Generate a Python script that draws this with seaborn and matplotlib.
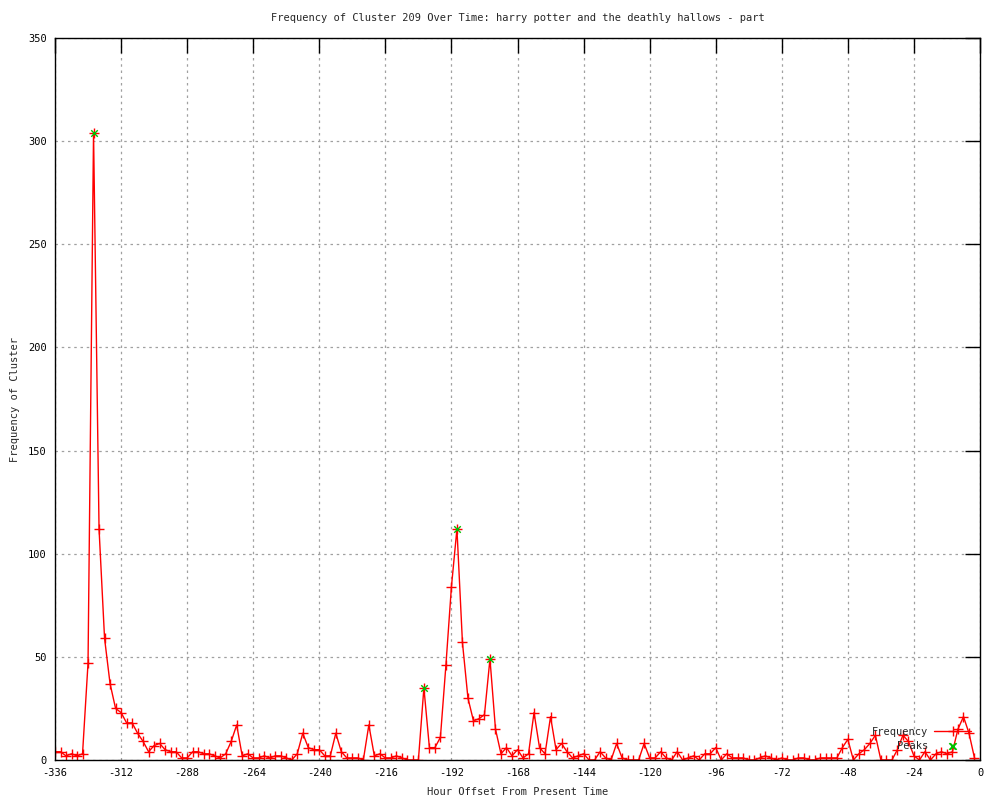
import numpy as np
import pandas as pd
import matplotlib
matplotlib.use("Agg")
import matplotlib.pyplot as plt
import seaborn as sns

# hourly offsets, one reading every 2 hours
hours = np.arange(-336, 0, 2)

frequency = [
    4, 4, 2, 3, 2, 3, 47, 304, 112, 59,
    37, 25, 23, 18, 18, 13, 9, 4, 7, 8,
    5, 4, 4, 1, 1, 4, 4, 3, 3, 2,
    1, 3, 9, 17, 2, 3, 1, 1, 2, 1,
    2, 2, 1, 0, 3, 13, 6, 5, 5, 2,
    2, 13, 4, 1, 1, 1, 0, 17, 2, 3,
    1, 1, 2, 1, 0, 0, 0, 35, 6, 6,
    11, 46, 84, 112, 57, 30, 19, 20, 22, 49,
    15, 3, 6, 2, 5, 1, 3, 23, 6, 3,
    21, 5, 8, 4, 1, 2, 3, 0, 0, 4,
    1, 0, 8, 1, 0, 0, 0, 8, 1, 1,
    4, 1, 0, 4, 0, 1, 2, 0, 3, 3,
    6, 0, 3, 1, 1, 1, 0, 0, 1, 2,
    1, 0, 1, 0, 0, 1, 1, 0, 0, 1,
    1, 1, 1, 6, 10, 0, 3, 5, 8, 12,
    0, 0, 0, 5, 12, 9, 2, 0, 4, 0,
    3, 4, 3, 4, 15, 21, 13, 1,
]

peak_hours = [-322, -202, -190, -178, -10]
peak_values = [304, 35, 112, 49, 7]

df = pd.DataFrame({"hour": hours, "freq": frequency})
peaks = pd.DataFrame({"hour": peak_hours, "freq": peak_values})

sns.set_style("white")
plt.rcParams["font.family"] = ["DejaVu Sans Mono"]
plt.rcParams["axes.unicode_minus"] = False
fs = 7.5

fig = plt.figure(figsize=(10, 8), dpi=100)
ax = fig.add_axes([0.055, 0.05, 0.925, 0.9025])

sns.lineplot(data=df, x="hour", y="freq", ax=ax, color="red", linewidth=1,
             marker="+", markersize=7, markeredgewidth=1.0,
             markeredgecolor="red", label="Frequency")
sns.scatterplot(data=peaks, x="hour", y="freq", ax=ax, color="#00c000",
                marker="x", s=22, linewidth=1.0, label="Peaks", zorder=5)

ax.set_xlim(-336, 0)
ax.set_ylim(0, 350)
ax.set_xticks(np.arange(-336, 1, 24))
ax.set_yticks(np.arange(0, 351, 50))
ax.grid(True, color="#a0a0a0", linestyle=(0, (2, 3)), linewidth=0.9)
ax.tick_params(direction="in", length=11, width=1, top=True, right=True,
               labelsize=fs, pad=6, colors="black")
for s in ax.spines.values():
    s.set_color("black")
    s.set_linewidth(1)

ax.set_title("Frequency of Cluster 209 Over Time: harry potter and the deathly hallows - part",
             fontsize=fs, pad=12)
ax.set_xlabel("Hour Offset From Present Time", fontsize=fs, labelpad=6)
ax.set_ylabel("Frequency of Cluster", fontsize=fs, labelpad=6)

ax.legend(loc="lower right", bbox_to_anchor=(0.998, 0.003), frameon=False,
          markerfirst=False, fontsize=fs, handlelength=3.5, labelspacing=0.35,
          handletextpad=0.6, borderpad=0.2)

fig.savefig("out.png", dpi=100)
